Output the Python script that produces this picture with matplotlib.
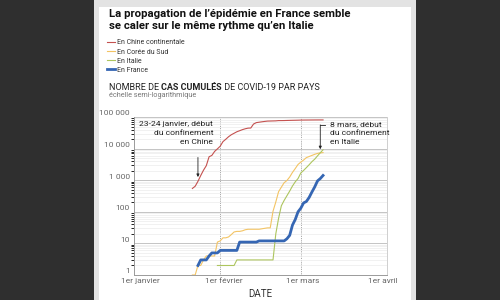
import matplotlib
matplotlib.use("Agg")
import matplotlib.pyplot as plt
import matplotlib.transforms as mtransforms
from matplotlib.patches import Rectangle
import numpy as np
import pandas as pd

plt.rcParams['font.family'] = ['Roboto', 'DejaVu Sans']

# cumulative confirmed cases, one value per day
china_start = "2020-01-22"
china = [548, 643, 920, 1406, 2075, 2877, 5509, 6087, 8141, 9802,
         11891, 16630, 19716, 23707, 27440, 30587, 34110, 36814, 39829, 42354,
         44386, 44759, 59895, 66358, 68413, 70513, 72434, 74211, 74619, 75077,
         75550, 77001, 77022, 77241, 77754, 78166, 78600, 78928, 79356,
         79932, 80136, 80261, 80386, 80537, 80690, 80770, 80823, 80860]

korea_start = "2020-01-22"
korea = [1, 1, 2, 2, 3, 4, 4, 4, 4, 11,
         12, 15, 15, 16, 19, 23, 24, 24, 25, 27, 28, 28, 28, 28, 28, 29, 30, 31, 31,
         104, 204, 433, 602, 833, 977, 1261, 1766, 2337, 3150,
         3736, 4335, 5186, 5621, 6088, 6593, 7041, 7314, 7478]

italy_start = "2020-01-31"
italy = [2, 2, 2, 2, 2, 2, 2, 3, 3, 3, 3, 3, 3, 3, 3, 3, 3, 3, 3, 3, 3,
         20, 62, 155, 229, 322, 453, 655, 888, 1128,
         1694, 2036, 2502, 3089, 3858, 4636, 5883, 7375, 9172]

france_start = "2020-01-24"
france = [2, 3, 3, 3, 4, 5, 5, 5,
          6, 6, 6, 6, 6, 6, 6, 11, 11, 11, 11, 11, 11, 11, 12, 12, 12, 12, 12,
          12, 12, 12, 12, 12, 14, 18, 38, 57, 100,
          130, 191, 212, 285, 423, 613, 949, 1126, 1412]

series_labels = ["En Chine continentale", "En Corée du Sud", "En Italie", "En France"]
x_tick_dates = ["2020-01-01", "2020-02-01", "2020-03-01", "2020-04-01"]
x_tick_labels = ["1er janvier", "1er février", "1er mars", "1er avril"]
y_ticks = [1, 10, 100, 1000, 10000, 100000]
y_tick_labels = ["1", "10", "100", "1\u00a0000", "10\u00a0000", "100\u00a0000"]

W, H = 500, 300
fig = plt.figure(figsize=(5, 3), dpi=100)
fig.patch.set_facecolor('#2f2f2f')

# the page behind the chart
fig.patches.append(Rectangle((94 / W, 0), (416 - 94) / W, 1, transform=fig.transFigure,
                             facecolor='#e3e3e3', edgecolor='none', zorder=-3))
fig.patches.append(Rectangle((99 / W, 0), (411 - 99) / W, 1 - 7 / H, transform=fig.transFigure,
                             facecolor='white', edgecolor='none', zorder=-2))

ax = fig.add_axes([134 / W, 1 - 275 / H, (387 - 134) / W, (275 - 117) / H])
ax.set_facecolor('white')

colors = ['#c4514f', '#f3c464', '#adc55e', '#3566b3']
widths = [0.8, 0.8, 0.8, 2.0]
data = [(china_start, china), (korea_start, korea), (italy_start, italy), (france_start, france)]
for (start, vals), lab, c, lw in zip(data, series_labels, colors, widths):
    d = pd.date_range(start, periods=len(vals), freq='D')
    ax.plot(d, vals, color=c, lw=lw, label=lab, solid_joinstyle='round', zorder=3)

ax.set_yscale('log')
ax.set_ylim(1, 100000)
ax.set_xlim(pd.Timestamp("2020-01-01"), pd.Timestamp("2020-04-01"))

ax.set_yticks(y_ticks)
ax.set_yticklabels(y_tick_labels)
ax.yaxis.set_minor_locator(matplotlib.ticker.LogLocator(base=10, subs=np.arange(2, 10)))
ax.yaxis.set_minor_formatter(matplotlib.ticker.NullFormatter())
ax.grid(True, axis='y', which='major', color='#c4c4c4', lw=0.7, zorder=0)
ax.grid(True, axis='y', which='minor', color='#ececec', lw=0.5, zorder=0)

xt = pd.to_datetime(x_tick_dates)
ax.set_xticks(xt)
ax.set_xticklabels(x_tick_labels)
for d in xt[1:-1]:
    ax.axvline(d, color='#8a8a8a', lw=0.6, ls=(0, (1, 1.2)), zorder=1)

ax.tick_params(axis='both', length=0, labelsize=6, labelcolor='#666666')
ax.tick_params(axis='x', pad=2)
ax.tick_params(axis='y', pad=3)
for lab in ax.get_yticklabels():
    lab.set_transform(lab.get_transform() + mtransforms.ScaledTranslation(0, 3 / 72, fig.dpi_scale_trans))
# labels sit a little off their date in the original
for lab, dx in zip(ax.get_xticklabels(), [6, 4, 2, -4]):
    lab.set_transform(lab.get_transform() + mtransforms.ScaledTranslation(dx / 100, 0, fig.dpi_scale_trans))

ax.spines['top'].set_visible(False)
ax.spines['left'].set_color('#9a9a9a')
ax.spines['bottom'].set_color('#9a9a9a')
ax.spines['right'].set_color('#cfcfcf')
for s in ['left', 'bottom', 'right']:
    ax.spines[s].set_linewidth(0.7)

ax.set_xlabel("DATE", fontsize=7, color='#333333', labelpad=3.5)

# annotations
ax.text(pd.Timestamp("2020-01-29 12:00"), 10 ** 4.86,
        "23-24 janvier, début\ndu confinement\nen Chine",
        ha='right', va='top', multialignment='right', fontsize=6.1,
        color='#222222', linespacing=1.6)
ax.annotate("", xy=(pd.Timestamp("2020-01-24"), 10 ** 3.1),
            xytext=(pd.Timestamp("2020-01-24"), 10 ** 3.72),
            arrowprops=dict(arrowstyle='-|>', color='#222222', lw=0.6,
                            mutation_scale=4, shrinkA=0, shrinkB=0))

ax.text(pd.Timestamp("2020-03-11 12:00"), 10 ** 4.88,
        "8 mars, début\ndu confinement\nen Italie",
        ha='left', va='top', multialignment='left', fontsize=6.1,
        color='#222222', linespacing=1.6, clip_on=False)
ax.plot([pd.Timestamp("2020-03-09 18:00"), pd.Timestamp("2020-03-08")],
        [10 ** 4.75, 10 ** 4.75], color='#222222', lw=0.6, clip_on=False)
ax.annotate("", xy=(pd.Timestamp("2020-03-08"), 10 ** 3.98),
            xytext=(pd.Timestamp("2020-03-08"), 10 ** 4.75),
            arrowprops=dict(arrowstyle='-|>', color='#222222', lw=0.6,
                            mutation_scale=4, shrinkA=0, shrinkB=0))

# titles
fig.text(109 / W, 1 - 14 / H, "La propagation de l\u2019épidémie en France semble",
         fontsize=8.2, fontweight='bold', color='#111111', va='center', ha='left')
fig.text(109 / W, 1 - 26 / H, "se caler sur le même rythme qu\u2019en Italie",
         fontsize=8.2, fontweight='bold', color='#111111', va='center', ha='left')

# legend
handles, labels = ax.get_legend_handles_labels()
leg = fig.legend(handles, labels, loc='upper left', bbox_to_anchor=(107 / W, 1 - 39.5 / H),
                 frameon=False, fontsize=5, handlelength=1.1, handletextpad=0.35,
                 labelspacing=0.3, borderpad=0, borderaxespad=0)
for t in leg.get_texts():
    t.set_color('#333333')

# subtitle with a bold part
fig.canvas.draw()
r = fig.canvas.get_renderer()
x0 = 109 / W
ysub = 1 - 87 / H
parts = [("NOMBRE DE ", 'normal'), ("CAS CUMULÉS", 'bold'), (" DE COVID-19 PAR PAYS", 'normal')]
for txt, wt in parts:
    t = fig.text(x0, ysub, txt, fontsize=6.5, fontweight=wt, color='#222222', va='center', ha='left')
    bb = t.get_window_extent(renderer=r)
    x0 += bb.width / W
fig.text(109 / W, 1 - 95.5 / H, "échelle semi-logarithmique", fontsize=5.2,
         color='#777777', va='center', ha='left')

fig.savefig("out.png", dpi=100, facecolor=fig.get_facecolor())
